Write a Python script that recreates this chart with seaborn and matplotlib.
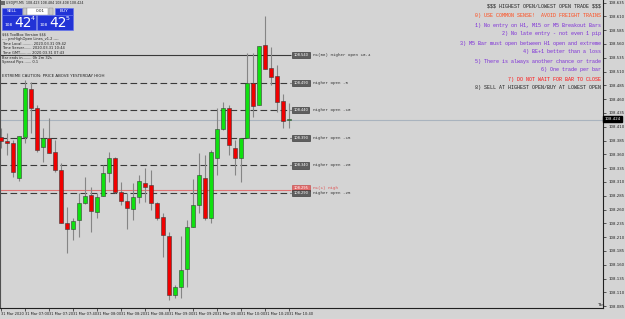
import matplotlib
matplotlib.use("Agg")
import matplotlib.pyplot as plt
import seaborn as sns
import pandas as pd
import numpy as np
from matplotlib.patches import Rectangle

# ---------------- data ----------------
bar_times = ["06:40", "06:45", "06:50", "06:55", "07:00", "07:05", "07:10", "07:15",
             "07:20", "07:25", "07:30", "07:35", "07:40", "07:45", "07:50", "07:55",
             "08:00", "08:05", "08:10", "08:15", "08:20", "08:25", "08:30", "08:35",
             "08:40", "08:45", "08:50", "08:55", "09:00", "09:05", "09:10", "09:15",
             "09:20", "09:25", "09:30", "09:35", "09:40", "09:45", "09:50", "09:55",
             "10:00", "10:05", "10:10", "10:15", "10:20", "10:25", "10:30", "10:35",
             "10:40"]
opens = [108.392, 108.384, 108.381, 108.317, 108.392, 108.479, 108.444, 108.373,
         108.390, 108.364, 108.332, 108.236, 108.225, 108.241, 108.272, 108.286,
         108.256, 108.285, 108.326, 108.353, 108.292, 108.276, 108.261, 108.283,
         108.308, 108.305, 108.272, 108.247, 108.212, 108.105, 108.120, 108.152,
         108.228, 108.268, 108.317, 108.245, 108.353, 108.406, 108.444, 108.372,
         108.353, 108.390, 108.489, 108.450, 108.558, 108.517, 108.502, 108.457,
         108.423]
highs = [108.408, 108.399, 108.386, 108.393, 108.495, 108.491, 108.450, 108.408,
         108.426, 108.386, 108.344, 108.265, 108.245, 108.290, 108.319, 108.301,
         108.290, 108.341, 108.364, 108.355, 108.310, 108.290, 108.308, 108.323,
         108.335, 108.332, 108.274, 108.254, 108.219, 108.123, 108.212, 108.241,
         108.315, 108.362, 108.359, 108.368, 108.444, 108.455, 108.450, 108.386,
         108.390, 108.544, 108.544, 108.556, 108.611, 108.555, 108.522, 108.469,
         108.453]
lows = [108.372, 108.359, 108.319, 108.312, 108.381, 108.399, 108.364, 108.346,
        108.363, 108.328, 108.235, 108.181, 108.205, 108.210, 108.270, 108.219,
        108.245, 108.284, 108.310, 108.290, 108.268, 108.225, 108.241, 108.272,
        108.274, 108.259, 108.241, 108.174, 108.096, 108.100, 108.100, 108.120,
        108.228, 108.254, 108.241, 108.236, 108.323, 108.404, 108.359, 108.323,
        108.310, 108.390, 108.428, 108.450, 108.515, 108.486, 108.437, 108.408,
        108.408]
closes = [108.384, 108.381, 108.328, 108.393, 108.480, 108.444, 108.368, 108.390,
          108.363, 108.332, 108.236, 108.225, 108.239, 108.272, 108.285, 108.257,
          108.283, 108.326, 108.353, 108.292, 108.276, 108.263, 108.283, 108.312,
          108.301, 108.272, 108.245, 108.214, 108.105, 108.120, 108.151, 108.228,
          108.268, 108.323, 108.245, 108.364, 108.406, 108.444, 108.377, 108.353,
          108.390, 108.489, 108.448, 108.556, 108.515, 108.500, 108.455, 108.421,
          108.424]

level_prices = [108.540, 108.490, 108.440, 108.390, 108.340, 108.290]
level_labels = ["H1(06) Higher Open 10.4", "Higher Open -5", "Higher Open -10",
                "Higher Open -15", "Higher Open -20", "Higher Open -25"]
prev_high_price = 108.295
prev_high_label = "H1(1) High"
bid_price = 108.424

ytick_values = [108.635, 108.610, 108.585, 108.560, 108.535, 108.510, 108.485,
                108.460, 108.435, 108.410, 108.385, 108.360, 108.335, 108.310,
                108.285, 108.260, 108.235, 108.210, 108.185, 108.160, 108.135,
                108.110, 108.085]
xtick_times = ["06:40", "07:00", "07:20", "07:40", "08:00", "08:20", "08:40",
               "09:00", "09:20", "09:40", "10:00", "10:20", "10:40"]
xtick_labels = ["31 Mar 2020", "31 Mar 07:00", "31 Mar 07:20", "31 Mar 07:40",
                "31 Mar 08:00", "31 Mar 08:20", "31 Mar 08:40", "31 Mar 09:00",
                "31 Mar 09:20", "31 Mar 09:40", "31 Mar 10:00", "31 Mar 10:20",
                "31 Mar 10:40"]

rules_text = ["$$$ HIGHEST OPEN/LOWEST OPEN TRADE $$$",
              "0) USE COMMON SENSE!  AVOID FREIGHT TRAINS",
              "1) No entry on H1, M15 or M5 Breakout Bars",
              "2) No late entry - not even 1 pip",
              "3) M5 Bar must open between H1 open and extreme",
              "4) BE+1 better than a loss",
              "5) There is always another chance or trade",
              "6) One trade per bar",
              "7) DO NOT WAIT FOR BAR TO CLOSE",
              "8) SELL AT HIGHEST OPEN/BUY AT LOWEST OPEN"]
rules_colors = ["#202020", "#ff4a1a", "#7a28d8", "#7a28d8", "#7a28d8", "#7a28d8",
                "#7a28d8", "#7a28d8", "#ff1010", "#202020"]
info_text = ["$$$ ToolBox Version $$$",
             "---- prvHighOpen Lines_v1.2 ----",
             "Time Local.......... 2020.03.31 09:42",
             "Time Server....... 2020.03.31 10:44",
             "Time GMT.......... 2020.03.31 07:43",
             "Bar ends in........ 0h 2m 32s",
             "Spread Pips....... 0.1"]
caution_text = "EXTREME CAUTION: PRICE ABOVE YESTERDAY HIGH"
header_text = "USDJPY,M5  108.423 108.484 108.408 108.424"

# ---------------- figure ----------------
sns.set_theme(style="white")
plt.rcParams['font.family'] = ['DejaVu Sans']
plt.rcParams['text.parse_math'] = False
bg = "#d4d4d4"

df = pd.DataFrame({"time": bar_times, "open": opens, "high": highs,
                   "low": lows, "close": closes})
df["idx"] = np.arange(len(df))

fig = plt.figure(figsize=(6.25, 3.19), dpi=100)
fig.patch.set_facecolor(bg)
ax = fig.add_axes([0, 11 / 319, 603 / 625, 308 / 319])
ax.set_facecolor(bg)
ax.set_xlim(-1 / 6, 603 / 6 - 1 / 6)
ax.set_ylim(108.0817, 108.6397)

# wicks
ax.vlines(df["idx"], df["low"], df["high"], color="#858585", lw=0.8, zorder=2)
up = df[df["close"] >= df["open"]]
dn = df[df["close"] < df["open"]]
ax.bar(up["idx"], np.maximum(up["close"] - up["open"], 0.0008), bottom=up["open"],
       width=0.68, color="#10e010", edgecolor="#3a3a3a", lw=0.4, zorder=3)
ax.bar(dn["idx"], dn["open"] - dn["close"], bottom=dn["close"],
       width=0.68, color="#f00000", edgecolor="#3a3a3a", lw=0.4, zorder=3)

# level lines
line_end = 48.35
for i, (lv, lab) in enumerate(zip(level_prices, level_labels)):
    ls = "-" if i == 0 else (0, (6, 3))
    ax.hlines(lv, -0.2, line_end, colors="#3a3a3a", linestyles=ls, lw=0.8, zorder=1)
    ax.text(48.75, lv, f"{lv:.3f}", fontsize=2.6, color="white", va="center",
            ha="left", zorder=5,
            bbox=dict(boxstyle="square,pad=0.3", fc="#5e5e5e", ec="#2a2a2a", lw=0.4))
    ax.text(52.0, lv, lab, fontsize=3.0, color="#303030", va="center", ha="left",
            family="Liberation Mono", zorder=5)

ax.hlines(prev_high_price, -0.2, line_end, colors="#e07070", lw=0.8, zorder=1)
ax.text(48.75, prev_high_price + 0.004, f"{prev_high_price:.3f}", fontsize=2.6,
        color="white", va="center", ha="left", zorder=4,
        bbox=dict(boxstyle="square,pad=0.3", fc="#e06a6a", ec="#c04040", lw=0.4))
ax.text(52.0, prev_high_price + 0.004, prev_high_label, fontsize=3.0, color="#e05050",
        va="center", ha="left", family="Liberation Mono", zorder=4)

# bid line
ax.axhline(bid_price - 0.002, color="#a9b3be", lw=0.8, zorder=1)

# axes styling
ax.spines["top"].set_visible(False)
ax.spines["left"].set_color("#505050")
ax.spines["left"].set_linewidth(0.8)
ax.spines["right"].set_color("#202020")
ax.spines["right"].set_linewidth(0.8)
ax.spines["bottom"].set_color("#202020")
ax.spines["bottom"].set_linewidth(0.8)

ax.yaxis.tick_right()
ax.set_yticks(ytick_values)
ax.set_yticklabels([f"{v:.3f}" for v in ytick_values])
ax.tick_params(axis="y", right=True, length=2, width=0.5, pad=2, labelsize=2.8,
               colors="#202020")
ax.text(1.002, bid_price, f"{bid_price:.3f}", transform=ax.get_yaxis_transform(),
        fontsize=2.8, color="white", va="center", ha="left", zorder=6,
        bbox=dict(boxstyle="square,pad=0.35", fc="black", ec="black"))

xt = [bar_times.index(t) for t in xtick_times]
ax.set_xticks(xt)
ax.set_xticklabels(xtick_labels)
ax.tick_params(axis="x", bottom=True, length=2, width=0.5, pad=1, labelsize=2.6,
               colors="#202020")
plt.setp(ax.get_xticklabels(), ha="left")
ax.grid(False)

# ---------------- overlay (panel & texts) ----------------
ov = fig.add_axes([0, 0, 1, 1])
ov.set_xlim(0, 625)
ov.set_ylim(319, 0)
ov.axis("off")
ov.patch.set_alpha(0)

ov.text(6, 3.2, header_text, fontsize=2.3, color="#202020", va="center", ha="left")
ov.add_patch(Rectangle((1, 1), 3.5, 4, fc="#6a6a6a", ec="none"))

blue = "#2233d6"
ov.add_patch(Rectangle((2, 7.5), 20, 7, fc=blue, ec="#6070f0", lw=0.4))
ov.text(12, 11, "SELL", fontsize=3.2, color="white", ha="center", va="center")
ov.add_patch(Rectangle((22.5, 7.5), 4.5, 7, fc="#c8c8c8", ec="#8a8a8a", lw=0.3))
ov.add_patch(Rectangle((27, 7.5), 21, 7, fc="white", ec="#8a8a8a", lw=0.3))
ov.text(45, 11, "0.01", fontsize=3.0, color="#202020", ha="right", va="center")
ov.add_patch(Rectangle((48.5, 7.5), 4.5, 7, fc="#c8c8c8", ec="#8a8a8a", lw=0.3))
ov.add_patch(Rectangle((55, 7.5), 18, 7, fc=blue, ec="#6070f0", lw=0.4))
ov.text(64, 11, "BUY", fontsize=3.2, color="white", ha="center", va="center")

for x0, w, sup in [(2, 33.5, "4"), (37, 36, "5")]:
    ov.add_patch(Rectangle((x0, 15), w, 14.5, fc=blue, ec="#6070f0", lw=0.4))
    ov.text(x0 + 3, 24.5, "108", fontsize=3.2, color="white", ha="left", va="center")
    ov.text(x0 + 12, 22.8, "42", fontsize=10, color="white", ha="left", va="center")
    ov.text(x0 + 28.5, 18.5, sup, fontsize=4.5, color="white", ha="left", va="center")

info_y = [34, 39, 44, 48, 53, 58, 62]
for t, y in zip(info_text, info_y):
    ov.text(2, y, t, fontsize=2.6, color="#202020", ha="left", va="center")
ov.text(2, 76, caution_text, fontsize=2.9, color="#202020", ha="left", va="center")

rules_y = [6, 16, 25, 34, 43, 52, 61, 70, 79, 88]
for t, c, y in zip(rules_text, rules_colors, rules_y):
    ov.text(601, y, t, fontsize=3.6, color=c, ha="right", va="center",
            family="Liberation Mono")

ov.text(597, 305, "Tks", fontsize=3.2, color="#202020", ha="left", va="center")
ov.hlines(318.5, 0, 625, colors="#f0f0f0", lw=0.8)

fig.savefig("out.png", dpi=100, facecolor=bg)
